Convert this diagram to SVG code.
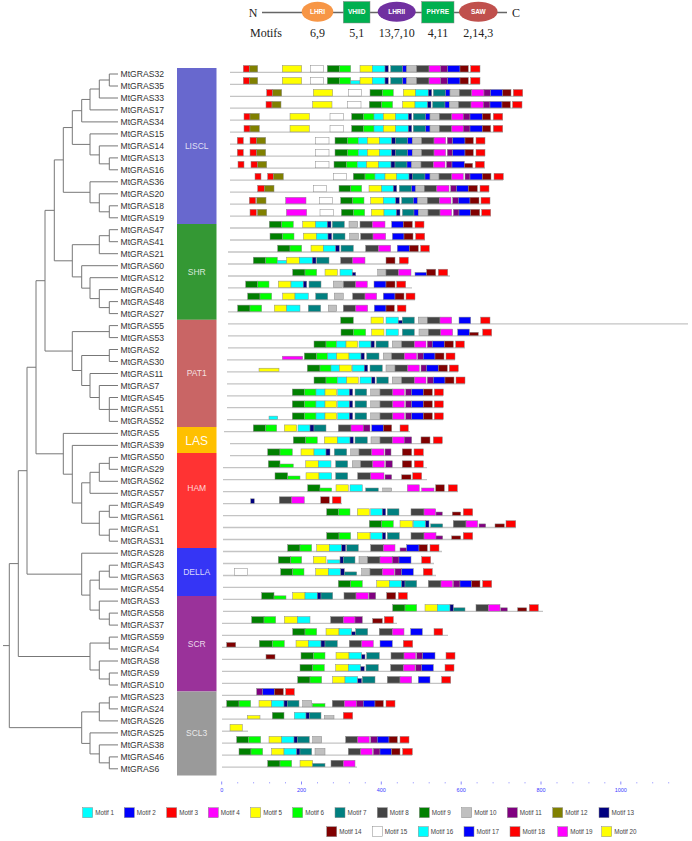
<svg xmlns="http://www.w3.org/2000/svg" width="692" height="841" viewBox="0 0 692 841">
<style>
.lbl{font-family:"Liberation Sans",Arial,sans-serif;font-size:8.6px;fill:#333}
.clade{font-family:"Liberation Sans",Arial,sans-serif;font-size:8.5px;fill:#fff;fill-opacity:.82;text-anchor:middle}
.ser{font-family:"Liberation Serif","Times New Roman",serif;font-size:12px;fill:#222}
.dom{font-family:"Liberation Sans",Arial,sans-serif;font-size:6.5px;fill:#fff;text-anchor:middle;font-weight:bold}
.ax{font-family:"Liberation Sans",Arial,sans-serif;font-size:5.5px;fill:#3a3aff;text-anchor:middle}
.lg{font-family:"Liberation Sans",Arial,sans-serif;font-size:6.3px;fill:#444}
.tree path{fill:none;stroke:#777;stroke-width:1}
.ln{stroke:#c4c4c4;stroke-width:1.3}
rect{stroke:#8a8a8a;stroke-width:.5}
.R{fill:#f00}.O{fill:#808000}.Y{fill:#ff0}.E{fill:#fff}.G{fill:#008000}.L{fill:#0f0}.C{fill:#0ff}.N{fill:#000080}.T{fill:#008080}.B{fill:#00f}.S{fill:#c0c0c0}.D{fill:#444}.M{fill:#f0f}.P{fill:#800080}.K{fill:#800000}
.blk{stroke:none}
</style>
<g id="header">
<line x1="262" y1="12.5" x2="507" y2="12.5" stroke="#666" stroke-width="1.6"/>
<text class="ser" x="253" y="17" text-anchor="middle">N</text>
<text class="ser" x="516" y="17" text-anchor="middle">C</text>
<ellipse cx="317.5" cy="11.7" rx="15.8" ry="10" fill="#F79646"/>
<text class="dom" x="317.5" y="14">LHRI</text>
<rect x="343.3" y="1.5" width="26.7" height="21.5" fill="#00B050" stroke="none"/>
<text class="dom" x="356.7" y="14">VHIID</text>
<ellipse cx="396.7" cy="11.7" rx="19" ry="10" fill="#7030A0"/>
<text class="dom" x="396.7" y="14">LHRII</text>
<rect x="421.7" y="1.5" width="32.3" height="21.5" fill="#00B050" stroke="none"/>
<text class="dom" x="437.8" y="14">PHYRE</text>
<ellipse cx="478.3" cy="11.7" rx="19.3" ry="10" fill="#C0504D"/>
<text class="dom" x="478.3" y="14">SAW</text>
<text class="ser" x="250" y="37">Motifs</text>
<text class="ser" x="317.5" y="37" text-anchor="middle">6,9</text>
<text class="ser" x="356.7" y="37" text-anchor="middle">5,1</text>
<text class="ser" x="396.7" y="37" text-anchor="middle">13,7,10</text>
<text class="ser" x="438" y="37" text-anchor="middle">4,11</text>
<text class="ser" x="478.3" y="37" text-anchor="middle">2,14,3</text>
</g>
<g id="connectors" class="tree">
<path d="M118 74H109.3V86H118"/><path d="M109.3 80H99.3V98H118"/><path d="M99.3 89H90V109.9H118"/><path d="M90 99.45H81.7V121.9H118"/>
<path d="M118 157.9H109.3V169.8H118"/><path d="M118 145.9H99.3V163.85H109.3"/><path d="M118 133.9H90V154.9H99.3"/><path d="M81.7 110.7H72.3V144.4H90"/>
<path d="M118 205.8H109.3V217.8H118"/><path d="M118 193.8H99.3V211.8H109.3"/><path d="M118 181.8H90V202.8H99.3"/><path d="M72.3 127.55H63.3V192.3H90"/>
<path d="M118 229.7H109.3V241.7H118"/><path d="M109.3 235.7H99.3V253.7H118"/><path d="M118 301.6H109.3V313.6H118"/><path d="M118 289.6H99.3V307.6H109.3"/><path d="M118 277.7H90V298.6H99.3"/><path d="M118 265.7H81.7V288.15H90"/><path d="M99.3 244.7H72.3V276.9H81.7"/><path d="M63.3 159.9H54.3V260.8H72.3"/>
<path d="M118 325.6H109.3V337.6H118"/><path d="M118 349.5H109.3V361.5H118"/><path d="M118 397.5H109.3V421.4H118M109.3 409.4H118"/><path d="M118 385.5H99.3V409.45H109.3"/><path d="M118 373.5H90V397.5H99.3"/><path d="M109.3 355.5H81.7V385.5H90"/><path d="M109.3 331.6H72.3V370.5H81.7"/><path d="M54.3 210.35H45V351.05H72.3"/>
<path d="M118 457.4H109.3V469.3H118"/><path d="M109.3 463.35H99.3V481.3H118"/><path d="M99.3 472.3H90V493.3H118"/><path d="M118 505.3H109.3V517.3H118"/><path d="M118 529.2H109.3V541.2H118"/><path d="M109.3 511.3H99.3V535.2H109.3"/><path d="M90 482.8H81.7V523.25H99.3"/><path d="M118 445.4H72.3V503H81.7"/><path d="M118 433.4H63.3V474.2H72.3"/><path d="M45 280.7H36V453.8H63.3"/>
<path d="M118 565.2H109.3V577.2H118"/><path d="M109.3 571.2H99.3V589.1H118"/><path d="M118 613.1H109.3V625.1H118"/><path d="M118 601.1H99.3V619.1H109.3"/><path d="M99.3 580.15H90V610.1H99.3"/><path d="M118 553.2H81.7V595.1H90"/><path d="M36 367.25H27V574.15H81.7"/>
<path d="M118 637.1H109.3V649H118"/><path d="M118 673H109.3V685H118"/><path d="M118 661H99.3V679H109.3"/><path d="M109.3 643.05H90V670H99.3"/><path d="M27 470.7H18.3V656.5H90"/>
<path d="M118 697H109.3V708.9H118"/><path d="M109.3 702.95H99.3V720.9H118"/><path d="M118 756.9H109.3V768.8H118"/><path d="M118 744.9H99.3V762.85H109.3"/><path d="M118 732.9H90V753.9H99.3"/><path d="M99.3 711.9H81.7V743.4H90"/><path d="M18.3 563.6H9.3V727.65H81.7M3 645.6H9.3"/>
</g>
<g id="clades">
<g id="LISCL"><rect class="blk" x="177" y="68" width="39.5" height="156" fill="#6868CE"/><text class="clade" x="196.7" y="148.5">LISCL</text></g>
<g id="SHR"><rect class="blk" x="177" y="224" width="39.5" height="95.8" fill="#349834"/><text class="clade" x="196.7" y="274.7">SHR</text></g>
<g id="PAT1"><rect class="blk" x="177" y="319.8" width="39.5" height="107.2" fill="#C96565"/><text class="clade" x="196.7" y="376">PAT1</text></g>
<g id="LAS"><rect class="blk" x="177" y="427" width="39.5" height="26" fill="#FFC000"/><text class="clade" x="196.7" y="445.3" style="font-size:12px;fill-opacity:.95">LAS</text></g>
<g id="HAM"><rect class="blk" x="177" y="453" width="39.5" height="95" fill="#FF3333"/><text class="clade" x="196.7" y="490.7">HAM</text></g>
<g id="DELLA"><rect class="blk" x="177" y="548" width="39.5" height="48" fill="#3535F5"/><text class="clade" x="196.7" y="574.7">DELLA</text></g>
<g id="SCR"><rect class="blk" x="177" y="596" width="39.5" height="95.5" fill="#9A329A"/><text class="clade" x="196.7" y="647">SCR</text></g>
<g id="SCL3"><rect class="blk" x="177" y="691.5" width="39.5" height="84" fill="#9A9A9A"/><text class="clade" x="196.7" y="736.3">SCL3</text></g>
</g>
<g id="genes">
<g id="MtGRAS32"><text class="lbl" x="120.5" y="77">MtGRAS32</text><g transform="translate(0,72)"><line class="ln" x1="230" y1="0.3" x2="480" y2="0.3"/><rect class="R" x="243.3" y="-6.5" width="6" height="6.5"/><rect class="O" x="249.3" y="-6.5" width="8.4" height="6.5"/><rect class="Y" x="282.3" y="-6.5" width="19.4" height="6.5"/><rect class="E" x="310.7" y="-6.5" width="12.6" height="6.5"/><rect class="G" x="327.3" y="-6.5" width="12" height="6.5"/><rect class="L" x="339.3" y="-6.5" width="11.4" height="6.5"/><rect class="Y" x="360" y="-6.5" width="12.3" height="6.5"/><rect class="C" x="372.3" y="-6.5" width="12.7" height="6.5"/><rect class="N" x="385" y="-6.5" width="3.3" height="6.5"/><rect class="T" x="390.7" y="-6.5" width="12" height="6.5"/><rect class="B" x="402.7" y="-6.5" width="4" height="6.5"/><rect class="S" x="406.7" y="-6.5" width="10" height="6.5"/><rect class="D" x="416.7" y="-6.5" width="12.3" height="6.5"/><rect class="M" x="429" y="-6.5" width="11.7" height="6.5"/><rect class="P" x="440.7" y="-6.5" width="7" height="6.5"/><rect class="B" x="447.7" y="-6.5" width="12.3" height="6.5"/><rect class="K" x="460" y="-6.5" width="8.3" height="6.5"/><rect class="R" x="470.7" y="-6.5" width="9.3" height="6.5"/></g></g>
<g id="MtGRAS35"><text class="lbl" x="120.5" y="89">MtGRAS35</text><g transform="translate(0,84)"><line class="ln" x1="230" y1="0.3" x2="480" y2="0.3"/><rect class="R" x="243.3" y="-6.5" width="6" height="6.5"/><rect class="O" x="249.3" y="-6.5" width="8.4" height="6.5"/><rect class="Y" x="282.3" y="-6.5" width="19.4" height="6.5"/><rect class="E" x="310.7" y="-6.5" width="12.6" height="6.5"/><rect class="G" x="327.3" y="-6.5" width="12" height="6.5"/><rect class="L" x="339.3" y="-6.5" width="11.4" height="6.5"/><rect class="C" x="350.7" y="-3.3" width="9.3" height="3.3"/><rect class="Y" x="360" y="-6.5" width="12.3" height="6.5"/><rect class="C" x="372.3" y="-6.5" width="12.7" height="6.5"/><rect class="N" x="385" y="-6.5" width="3.3" height="6.5"/><rect class="T" x="390.7" y="-6.5" width="12" height="6.5"/><rect class="B" x="402.7" y="-6.5" width="4" height="6.5"/><rect class="S" x="406.7" y="-6.5" width="10" height="6.5"/><rect class="D" x="416.7" y="-6.5" width="12.3" height="6.5"/><rect class="M" x="429" y="-6.5" width="11.7" height="6.5"/><rect class="P" x="440.7" y="-6.5" width="7" height="6.5"/><rect class="B" x="447.7" y="-6.5" width="12.3" height="6.5"/><rect class="K" x="460" y="-6.5" width="8.3" height="6.5"/><rect class="R" x="470.7" y="-6.5" width="9.3" height="6.5"/></g></g>
<g id="MtGRAS33"><text class="lbl" x="120.5" y="101">MtGRAS33</text><g transform="translate(0,96)"><line class="ln" x1="230" y1="0.3" x2="523" y2="0.3"/><rect class="R" x="266.7" y="-6.5" width="6" height="6.5"/><rect class="O" x="272.7" y="-6.5" width="9" height="6.5"/><rect class="Y" x="313.3" y="-6.5" width="19.4" height="6.5"/><rect class="E" x="348.3" y="-6.5" width="13.4" height="6.5"/><rect class="G" x="370" y="-6.5" width="12.3" height="6.5"/><rect class="L" x="382.3" y="-6.5" width="11" height="6.5"/><rect class="Y" x="403.3" y="-6.5" width="12.4" height="6.5"/><rect class="C" x="415.7" y="-6.5" width="12.6" height="6.5"/><rect class="N" x="428.3" y="-6.5" width="3.4" height="6.5"/><rect class="T" x="433.3" y="-6.5" width="12.4" height="6.5"/><rect class="B" x="445.7" y="-6.5" width="4.3" height="6.5"/><rect class="S" x="450" y="-6.5" width="9.3" height="6.5"/><rect class="D" x="459.3" y="-6.5" width="12.4" height="6.5"/><rect class="M" x="471.7" y="-6.5" width="12.3" height="6.5"/><rect class="P" x="484" y="-6.5" width="6.7" height="6.5"/><rect class="B" x="490.7" y="-6.5" width="12" height="6.5"/><rect class="K" x="502.7" y="-6.5" width="8.3" height="6.5"/><rect class="R" x="513.3" y="-6.5" width="9.4" height="6.5"/></g></g>
<g id="MtGRAS17"><text class="lbl" x="120.5" y="112.9">MtGRAS17</text><g transform="translate(0,107.9)"><line class="ln" x1="230" y1="0.3" x2="522" y2="0.3"/><rect class="R" x="266" y="-6.5" width="6" height="6.5"/><rect class="O" x="272" y="-6.5" width="9" height="6.5"/><rect class="Y" x="312.6" y="-6.5" width="19.4" height="6.5"/><rect class="E" x="347.6" y="-6.5" width="13.4" height="6.5"/><rect class="G" x="369.3" y="-6.5" width="12.3" height="6.5"/><rect class="L" x="381.6" y="-6.5" width="11" height="6.5"/><rect class="Y" x="402.6" y="-6.5" width="12.4" height="6.5"/><rect class="C" x="415" y="-6.5" width="12.6" height="6.5"/><rect class="N" x="427.6" y="-6.5" width="3.4" height="6.5"/><rect class="T" x="432.6" y="-6.5" width="12.4" height="6.5"/><rect class="B" x="445" y="-6.5" width="4.3" height="6.5"/><rect class="S" x="449.3" y="-6.5" width="9.3" height="6.5"/><rect class="D" x="458.6" y="-6.5" width="12.4" height="6.5"/><rect class="M" x="471" y="-6.5" width="12.3" height="6.5"/><rect class="P" x="483.3" y="-6.5" width="6.7" height="6.5"/><rect class="B" x="490" y="-6.5" width="12" height="6.5"/><rect class="K" x="502" y="-6.5" width="8.3" height="6.5"/><rect class="R" x="512.6" y="-6.5" width="9.4" height="6.5"/></g></g>
<g id="MtGRAS34"><text class="lbl" x="120.5" y="124.9">MtGRAS34</text><g transform="translate(0,119.9)"><line class="ln" x1="230" y1="0.3" x2="503" y2="0.3"/><rect class="R" x="244" y="-6.5" width="6" height="6.5"/><rect class="O" x="250" y="-6.5" width="9.3" height="6.5"/><rect class="Y" x="290" y="-6.5" width="19.3" height="6.5"/><rect class="E" x="330" y="-6.5" width="13.3" height="6.5"/><rect class="G" x="351.7" y="-6.5" width="11.6" height="6.5"/><rect class="L" x="363.3" y="-6.5" width="10.7" height="6.5"/><rect class="C" x="374" y="-6.5" width="9.3" height="6.5"/><rect class="Y" x="383.3" y="-6.5" width="12.4" height="6.5"/><rect class="C" x="395.7" y="-6.5" width="12.6" height="6.5"/><rect class="N" x="408.3" y="-6.5" width="3.4" height="6.5"/><rect class="T" x="413.3" y="-6.5" width="12.4" height="6.5"/><rect class="B" x="425.7" y="-6.5" width="4.3" height="6.5"/><rect class="S" x="430" y="-6.5" width="9.3" height="6.5"/><rect class="D" x="439.3" y="-6.5" width="12.4" height="6.5"/><rect class="M" x="451.7" y="-6.5" width="11.6" height="6.5"/><rect class="P" x="463.3" y="-6.5" width="6.7" height="6.5"/><rect class="B" x="470" y="-6.5" width="12.3" height="6.5"/><rect class="K" x="482.3" y="-6.5" width="8.4" height="6.5"/><rect class="R" x="493.3" y="-6.5" width="9.4" height="6.5"/></g></g>
<g id="MtGRAS15"><text class="lbl" x="120.5" y="136.9">MtGRAS15</text><g transform="translate(0,131.9)"><line class="ln" x1="230" y1="0.3" x2="503" y2="0.3"/><rect class="R" x="244" y="-6.5" width="6" height="6.5"/><rect class="O" x="250" y="-6.5" width="9.3" height="6.5"/><rect class="Y" x="290" y="-6.5" width="19.3" height="6.5"/><rect class="E" x="330" y="-6.5" width="13.3" height="6.5"/><rect class="G" x="351.7" y="-6.5" width="11.6" height="6.5"/><rect class="L" x="363.3" y="-6.5" width="10.7" height="6.5"/><rect class="C" x="374" y="-6.5" width="9.3" height="6.5"/><rect class="Y" x="383.3" y="-6.5" width="12.4" height="6.5"/><rect class="C" x="395.7" y="-6.5" width="12.6" height="6.5"/><rect class="N" x="408.3" y="-6.5" width="3.4" height="6.5"/><rect class="T" x="413.3" y="-6.5" width="12.4" height="6.5"/><rect class="B" x="425.7" y="-6.5" width="4.3" height="6.5"/><rect class="S" x="430" y="-6.5" width="9.3" height="6.5"/><rect class="D" x="439.3" y="-6.5" width="12.4" height="6.5"/><rect class="M" x="451.7" y="-6.5" width="11.6" height="6.5"/><rect class="P" x="463.3" y="-6.5" width="6.7" height="6.5"/><rect class="B" x="470" y="-6.5" width="12.3" height="6.5"/><rect class="K" x="482.3" y="-6.5" width="8.4" height="6.5"/><rect class="R" x="493.3" y="-6.5" width="9.4" height="6.5"/></g></g>
<g id="MtGRAS14"><text class="lbl" x="120.5" y="148.9">MtGRAS14</text><g transform="translate(0,143.9)"><line class="ln" x1="230" y1="0.3" x2="485" y2="0.3"/><rect class="R" x="237.3" y="-6.5" width="6" height="6.5"/><rect class="R" x="250" y="-6.5" width="6.7" height="6.5"/><rect class="O" x="256.7" y="-6.5" width="9" height="6.5"/><rect class="E" x="315.7" y="-6.5" width="13.3" height="6.5"/><rect class="G" x="335" y="-6.5" width="12.3" height="6.5"/><rect class="L" x="347.3" y="-6.5" width="11" height="6.5"/><rect class="C" x="358.3" y="-6.5" width="9" height="6.5"/><rect class="Y" x="367.3" y="-6.5" width="12" height="6.5"/><rect class="C" x="379.3" y="-6.5" width="12.4" height="6.5"/><rect class="N" x="391.7" y="-6.5" width="4" height="6.5"/><rect class="T" x="395.7" y="-6.5" width="12" height="6.5"/><rect class="B" x="407.7" y="-6.5" width="4.6" height="6.5"/><rect class="S" x="412.3" y="-6.5" width="9.4" height="6.5"/><rect class="D" x="421.7" y="-6.5" width="12.3" height="6.5"/><rect class="M" x="434" y="-6.5" width="11.7" height="6.5"/><rect class="P" x="447.3" y="-6.5" width="5.4" height="6.5"/><rect class="B" x="452.7" y="-6.5" width="12.3" height="6.5"/><rect class="K" x="465" y="-6.5" width="8.3" height="6.5"/><rect class="R" x="476" y="-6.5" width="9" height="6.5"/></g></g>
<g id="MtGRAS13"><text class="lbl" x="120.5" y="160.9">MtGRAS13</text><g transform="translate(0,155.9)"><line class="ln" x1="230" y1="0.3" x2="485" y2="0.3"/><rect class="R" x="237.3" y="-6.5" width="6" height="6.5"/><rect class="R" x="250" y="-6.5" width="6.7" height="6.5"/><rect class="O" x="256.7" y="-6.5" width="9" height="6.5"/><rect class="E" x="315.7" y="-6.5" width="13.3" height="6.5"/><rect class="G" x="335" y="-6.5" width="12.3" height="6.5"/><rect class="L" x="347.3" y="-6.5" width="11" height="6.5"/><rect class="C" x="358.3" y="-6.5" width="9" height="6.5"/><rect class="Y" x="367.3" y="-6.5" width="12" height="6.5"/><rect class="C" x="379.3" y="-6.5" width="12.4" height="6.5"/><rect class="N" x="391.7" y="-6.5" width="4" height="6.5"/><rect class="T" x="395.7" y="-6.5" width="12" height="6.5"/><rect class="B" x="407.7" y="-6.5" width="4.6" height="6.5"/><rect class="S" x="412.3" y="-6.5" width="9.4" height="6.5"/><rect class="D" x="421.7" y="-6.5" width="12.3" height="6.5"/><rect class="M" x="434" y="-6.5" width="11.7" height="6.5"/><rect class="P" x="447.3" y="-6.5" width="5.4" height="6.5"/><rect class="B" x="452.7" y="-6.5" width="12.3" height="6.5"/><rect class="K" x="465" y="-6.5" width="8.3" height="6.5"/><rect class="R" x="476" y="-6.5" width="9" height="6.5"/></g></g>
<g id="MtGRAS16"><text class="lbl" x="120.5" y="172.8">MtGRAS16</text><g transform="translate(0,167.8)"><line class="ln" x1="230" y1="0.3" x2="485" y2="0.3"/><rect class="R" x="238" y="-6.5" width="6" height="6.5"/><rect class="R" x="251" y="-6.5" width="6.7" height="6.5"/><rect class="O" x="257.7" y="-6.5" width="9" height="6.5"/><rect class="E" x="315.7" y="-6.5" width="13.3" height="6.5"/><rect class="G" x="334" y="-6.5" width="12.3" height="6.5"/><rect class="L" x="346.3" y="-6.5" width="11" height="6.5"/><rect class="C" x="357.3" y="-6.5" width="9.3" height="6.5"/><rect class="Y" x="366.6" y="-6.5" width="12" height="6.5"/><rect class="C" x="378.6" y="-6.5" width="12.4" height="6.5"/><rect class="N" x="391" y="-6.5" width="4" height="6.5"/><rect class="T" x="395" y="-6.5" width="12" height="6.5"/><rect class="B" x="407" y="-6.5" width="4.6" height="6.5"/><rect class="S" x="411.6" y="-6.5" width="9.4" height="6.5"/><rect class="D" x="421" y="-6.5" width="12.3" height="6.5"/><rect class="M" x="433.3" y="-6.5" width="11.7" height="6.5"/><rect class="P" x="446.6" y="-6.5" width="5.4" height="6.5"/><rect class="B" x="452" y="-6.5" width="12.3" height="6.5"/><rect class="K" x="464.3" y="-4.5" width="8.3" height="4.5"/><rect class="R" x="475.3" y="-6.5" width="9" height="6.5"/></g></g>
<g id="MtGRAS36"><text class="lbl" x="120.5" y="184.8">MtGRAS36</text><g transform="translate(0,179.8)"><line class="ln" x1="230" y1="0.3" x2="503" y2="0.3"/><rect class="R" x="255" y="-6.5" width="6" height="6.5"/><rect class="R" x="267.7" y="-6.5" width="5.6" height="6.5"/><rect class="O" x="273.3" y="-6.5" width="10" height="6.5"/><rect class="E" x="333.3" y="-6.5" width="13.4" height="6.5"/><rect class="G" x="353.3" y="-6.5" width="11.7" height="6.5"/><rect class="L" x="365" y="-6.5" width="10" height="6.5"/><rect class="C" x="375" y="-6.5" width="10" height="6.5"/><rect class="Y" x="385" y="-6.5" width="11.7" height="6.5"/><rect class="C" x="396.7" y="-6.5" width="12.3" height="6.5"/><rect class="N" x="409" y="-6.5" width="3.7" height="6.5"/><rect class="T" x="412.7" y="-6.5" width="12.3" height="6.5"/><rect class="B" x="425" y="-6.5" width="5" height="6.5"/><rect class="S" x="430" y="-6.5" width="9" height="6.5"/><rect class="D" x="439" y="-6.5" width="12.7" height="6.5"/><rect class="M" x="451.7" y="-6.5" width="11.6" height="6.5"/><rect class="P" x="465" y="-6.5" width="5" height="6.5"/><rect class="B" x="470" y="-6.5" width="12.3" height="6.5"/><rect class="K" x="482.3" y="-6.5" width="8.7" height="6.5"/><rect class="R" x="494" y="-6.5" width="9.3" height="6.5"/></g></g>
<g id="MtGRAS20"><text class="lbl" x="120.5" y="196.8">MtGRAS20</text><g transform="translate(0,191.8)"><line class="ln" x1="230" y1="0.3" x2="489" y2="0.3"/><rect class="R" x="257.7" y="-6.5" width="6.6" height="6.5"/><rect class="O" x="264.3" y="-6.5" width="9.7" height="6.5"/><rect class="E" x="313.3" y="-6.5" width="13.4" height="6.5"/><rect class="G" x="339" y="-6.5" width="11.7" height="6.5"/><rect class="L" x="350.7" y="-6.5" width="11" height="6.5"/><rect class="Y" x="369" y="-6.5" width="12.7" height="6.5"/><rect class="C" x="381.7" y="-6.5" width="11.6" height="6.5"/><rect class="N" x="393.3" y="-6.5" width="3.4" height="6.5"/><rect class="T" x="399.3" y="-6.5" width="12.4" height="6.5"/><rect class="B" x="411.7" y="-6.5" width="4" height="6.5"/><rect class="S" x="415.7" y="-6.5" width="8.6" height="6.5"/><rect class="D" x="424.3" y="-6.5" width="12.4" height="6.5"/><rect class="M" x="436.7" y="-6.5" width="12.3" height="6.5"/><rect class="P" x="450.7" y="-6.5" width="6" height="6.5"/><rect class="B" x="456.7" y="-6.5" width="11.6" height="6.5"/><rect class="K" x="468.3" y="-6.5" width="9" height="6.5"/><rect class="R" x="480" y="-6.5" width="9" height="6.5"/></g></g>
<g id="MtGRAS18"><text class="lbl" x="120.5" y="208.8">MtGRAS18</text><g transform="translate(0,203.8)"><line class="ln" x1="230" y1="0.3" x2="490" y2="0.3"/><rect class="R" x="249.3" y="-6.5" width="6.4" height="6.5"/><rect class="O" x="256.7" y="-6.5" width="9.3" height="6.5"/><rect class="M" x="285.7" y="-6.5" width="20.3" height="6.5"/><rect class="E" x="319.3" y="-6.5" width="13.4" height="6.5"/><rect class="G" x="340.7" y="-6.5" width="12" height="6.5"/><rect class="L" x="352.7" y="-6.5" width="11.3" height="6.5"/><rect class="Y" x="370.7" y="-6.5" width="12.6" height="6.5"/><rect class="C" x="383.3" y="-6.5" width="12.4" height="6.5"/><rect class="N" x="395.7" y="-6.5" width="3.6" height="6.5"/><rect class="T" x="401.7" y="-6.5" width="11.6" height="6.5"/><rect class="B" x="413.3" y="-6.5" width="4.4" height="6.5"/><rect class="S" x="417.7" y="-6.5" width="9.6" height="6.5"/><rect class="D" x="427.3" y="-6.5" width="12" height="6.5"/><rect class="M" x="439.3" y="-6.5" width="11.7" height="6.5"/><rect class="P" x="452.7" y="-6.5" width="5.6" height="6.5"/><rect class="B" x="458.3" y="-6.5" width="11.7" height="6.5"/><rect class="K" x="470" y="-6.5" width="9" height="6.5"/><rect class="R" x="481" y="-6.5" width="9" height="6.5"/></g></g>
<g id="MtGRAS19"><text class="lbl" x="120.5" y="220.8">MtGRAS19</text><g transform="translate(0,215.8)"><line class="ln" x1="230" y1="0.3" x2="491" y2="0.3"/><rect class="R" x="250" y="-6.5" width="6.4" height="6.5"/><rect class="O" x="257.4" y="-6.5" width="9.3" height="6.5"/><rect class="M" x="286.4" y="-6.5" width="20.3" height="6.5"/><rect class="E" x="320" y="-6.5" width="13.4" height="6.5"/><rect class="G" x="341.4" y="-6.5" width="12" height="6.5"/><rect class="L" x="353.4" y="-6.5" width="11.3" height="6.5"/><rect class="Y" x="371.4" y="-6.5" width="12.6" height="6.5"/><rect class="C" x="384" y="-6.5" width="12.4" height="6.5"/><rect class="N" x="396.4" y="-6.5" width="3.6" height="6.5"/><rect class="T" x="402.4" y="-6.5" width="11.6" height="6.5"/><rect class="B" x="414" y="-6.5" width="4.4" height="6.5"/><rect class="S" x="418.4" y="-6.5" width="9.6" height="6.5"/><rect class="D" x="428" y="-6.5" width="12" height="6.5"/><rect class="M" x="440" y="-6.5" width="11.7" height="6.5"/><rect class="P" x="453.4" y="-6.5" width="5.6" height="6.5"/><rect class="B" x="459" y="-6.5" width="11.7" height="6.5"/><rect class="K" x="470.7" y="-6.5" width="9" height="6.5"/><rect class="R" x="481.7" y="-6.5" width="9" height="6.5"/></g></g>
<g id="MtGRAS47"><text class="lbl" x="120.5" y="232.7">MtGRAS47</text><g transform="translate(0,227.7)"><line class="ln" x1="230" y1="0.3" x2="424" y2="0.3"/><rect class="G" x="269.3" y="-6.5" width="12.4" height="6.5"/><rect class="L" x="281.7" y="-6.5" width="11.6" height="6.5"/><rect class="Y" x="302.7" y="-6.5" width="13" height="6.5"/><rect class="C" x="315.7" y="-6.5" width="11.6" height="6.5"/><rect class="N" x="327.3" y="-6.5" width="3.7" height="6.5"/><rect class="T" x="332.3" y="-6.5" width="12" height="6.5"/><rect class="S" x="349" y="-6.5" width="8.7" height="6.5"/><rect class="D" x="360" y="-6.5" width="12.3" height="6.5"/><rect class="M" x="372.3" y="-6.5" width="12.7" height="6.5"/><rect class="B" x="391.7" y="-6.5" width="11.6" height="6.5"/><rect class="K" x="403.3" y="-6.5" width="9" height="6.5"/><rect class="R" x="415" y="-6.5" width="9" height="6.5"/></g></g>
<g id="MtGRAS41"><text class="lbl" x="120.5" y="244.7">MtGRAS41</text><g transform="translate(0,239.7)"><line class="ln" x1="230" y1="0.3" x2="425" y2="0.3"/><rect class="G" x="270" y="-6.5" width="12.4" height="6.5"/><rect class="L" x="282.4" y="-6.5" width="11.6" height="6.5"/><rect class="Y" x="303.4" y="-6.5" width="13" height="6.5"/><rect class="C" x="316.4" y="-6.5" width="11.6" height="6.5"/><rect class="N" x="328" y="-6.5" width="3.7" height="6.5"/><rect class="T" x="333" y="-6.5" width="12" height="6.5"/><rect class="S" x="349.7" y="-6.5" width="8.7" height="6.5"/><rect class="D" x="360.7" y="-6.5" width="12.3" height="6.5"/><rect class="M" x="373" y="-6.5" width="12.7" height="6.5"/><rect class="B" x="392.4" y="-6.5" width="11.6" height="6.5"/><rect class="K" x="404" y="-6.5" width="9" height="6.5"/><rect class="R" x="415.7" y="-6.5" width="9" height="6.5"/></g></g>
<g id="MtGRAS21"><text class="lbl" x="120.5" y="256.7">MtGRAS21</text><g transform="translate(0,251.7)"><line class="ln" x1="228" y1="0.3" x2="430" y2="0.3"/><rect class="G" x="277.7" y="-6.5" width="12.3" height="6.5"/><rect class="L" x="290" y="-6.5" width="11.7" height="6.5"/><rect class="Y" x="311" y="-6.5" width="12.3" height="6.5"/><rect class="C" x="323.3" y="-6.5" width="12.4" height="6.5"/><rect class="N" x="335.7" y="-6.5" width="3.6" height="6.5"/><rect class="T" x="341" y="-6.5" width="12.3" height="6.5"/><rect class="D" x="365.7" y="-6.5" width="12.6" height="6.5"/><rect class="M" x="378.3" y="-6.5" width="12.4" height="6.5"/><rect class="B" x="397.3" y="-6.5" width="12" height="6.5"/><rect class="K" x="409.3" y="-6.5" width="9" height="6.5"/><rect class="R" x="420.7" y="-6.5" width="8.6" height="6.5"/></g></g>
<g id="MtGRAS60"><text class="lbl" x="120.5" y="268.7">MtGRAS60</text><g transform="translate(0,263.7)"><line class="ln" x1="228" y1="0.3" x2="408" y2="0.3"/><rect class="G" x="253.3" y="-6.5" width="12.4" height="6.5"/><rect class="L" x="265.7" y="-6.5" width="11.6" height="6.5"/><rect class="C" x="277.3" y="-3.3" width="9.4" height="3.3"/><rect class="Y" x="286.7" y="-6.5" width="12.6" height="6.5"/><rect class="C" x="299.3" y="-6.5" width="13" height="6.5"/><rect class="N" x="312.3" y="-6.5" width="3.7" height="6.5"/><rect class="T" x="316.7" y="-6.5" width="12.3" height="6.5"/><rect class="D" x="340.7" y="-6.5" width="12" height="6.5"/><rect class="M" x="352.7" y="-6.5" width="12.3" height="6.5"/><rect class="K" x="386" y="-6.5" width="9" height="6.5"/><rect class="R" x="399.3" y="-6.5" width="9" height="6.5"/></g></g>
<g id="MtGRAS12"><text class="lbl" x="120.5" y="280.7">MtGRAS12</text><g transform="translate(0,275.7)"><line class="ln" x1="228" y1="0.3" x2="450" y2="0.3"/><rect class="G" x="292.7" y="-6.5" width="12.3" height="6.5"/><rect class="L" x="305" y="-6.5" width="11.7" height="6.5"/><rect class="Y" x="325" y="-6.5" width="12.3" height="6.5"/><rect class="C" x="340" y="-6.5" width="12.3" height="6.5"/><rect class="N" x="352.3" y="-3.3" width="3.4" height="3.3"/><rect class="S" x="377.7" y="-6.5" width="8.3" height="6.5"/><rect class="D" x="386" y="-6.5" width="12.3" height="6.5"/><rect class="M" x="398.3" y="-6.5" width="12.7" height="6.5"/><rect class="B" x="415" y="-3.3" width="11.7" height="3.3"/><rect class="K" x="426.7" y="-6.5" width="9" height="6.5"/><rect class="R" x="438.3" y="-6.5" width="9.4" height="6.5"/></g></g>
<g id="MtGRAS40"><text class="lbl" x="120.5" y="292.6">MtGRAS40</text><g transform="translate(0,287.6)"><line class="ln" x1="228" y1="0.3" x2="412" y2="0.3"/><rect class="G" x="245.7" y="-6.5" width="12" height="6.5"/><rect class="L" x="257.7" y="-6.5" width="11.3" height="6.5"/><rect class="Y" x="278.3" y="-6.5" width="12.7" height="6.5"/><rect class="C" x="291" y="-6.5" width="12.3" height="6.5"/><rect class="N" x="303.3" y="-6.5" width="3.4" height="6.5"/><rect class="T" x="309" y="-6.5" width="12" height="6.5"/><rect class="S" x="333.3" y="-6.5" width="9" height="6.5"/><rect class="D" x="343.3" y="-6.5" width="12.4" height="6.5"/><rect class="M" x="355.7" y="-6.5" width="11.6" height="6.5"/><rect class="B" x="374" y="-6.5" width="12" height="6.5"/><rect class="K" x="386" y="-6.5" width="9" height="6.5"/><rect class="R" x="396.7" y="-6.5" width="9" height="6.5"/></g></g>
<g id="MtGRAS48"><text class="lbl" x="120.5" y="304.6">MtGRAS48</text><g transform="translate(0,299.6)"><line class="ln" x1="228" y1="0.3" x2="415" y2="0.3"/><rect class="G" x="247.7" y="-6.5" width="12.3" height="6.5"/><rect class="L" x="260" y="-6.5" width="11.7" height="6.5"/><rect class="Y" x="282.7" y="-6.5" width="12.3" height="6.5"/><rect class="C" x="295" y="-6.5" width="13.3" height="6.5"/><rect class="T" x="315.7" y="-6.5" width="12" height="6.5"/><rect class="S" x="334.3" y="-6.5" width="9" height="6.5"/><rect class="D" x="352.7" y="-6.5" width="12.3" height="6.5"/><rect class="M" x="365" y="-6.5" width="11.7" height="6.5"/><rect class="B" x="383.3" y="-6.5" width="11.7" height="6.5"/><rect class="K" x="395" y="-6.5" width="9" height="6.5"/><rect class="R" x="406" y="-6.5" width="9" height="6.5"/></g></g>
<g id="MtGRAS27"><text class="lbl" x="120.5" y="316.6">MtGRAS27</text><g transform="translate(0,311.6)"><line class="ln" x1="228" y1="0.3" x2="406" y2="0.3"/><rect class="G" x="237.7" y="-6.5" width="12.3" height="6.5"/><rect class="L" x="250" y="-6.5" width="11.7" height="6.5"/><rect class="Y" x="274.3" y="-6.5" width="12.4" height="6.5"/><rect class="C" x="286.7" y="-6.5" width="13.3" height="6.5"/><rect class="T" x="308.3" y="-6.5" width="12.4" height="6.5"/><rect class="S" x="328.3" y="-6.5" width="8.4" height="6.5"/><rect class="D" x="343.3" y="-6.5" width="12.4" height="6.5"/><rect class="M" x="355.7" y="-6.5" width="12" height="6.5"/><rect class="B" x="374.3" y="-6.5" width="11.7" height="6.5"/><rect class="K" x="386" y="-6.5" width="8.3" height="6.5"/><rect class="R" x="397.3" y="-6.5" width="8.7" height="6.5"/></g></g>
<g id="MtGRAS55"><text class="lbl" x="120.5" y="328.6">MtGRAS55</text><g transform="translate(0,323.6)"><line class="ln" x1="228" y1="0.3" x2="688" y2="0.3"/><rect class="G" x="340.7" y="-6.5" width="12.6" height="6.5"/><rect class="Y" x="371" y="-6.5" width="12.3" height="6.5"/><rect class="C" x="386" y="-6.5" width="12.3" height="6.5"/><rect class="N" x="398.3" y="-3.3" width="4" height="3.3"/><rect class="T" x="402.3" y="-6.5" width="12" height="6.5"/><rect class="S" x="418.3" y="-6.5" width="9" height="6.5"/><rect class="D" x="427.3" y="-6.5" width="12.7" height="6.5"/><rect class="M" x="440" y="-6.5" width="11.7" height="6.5"/><rect class="B" x="459" y="-6.5" width="11.7" height="6.5"/><rect class="R" x="480.7" y="-6.5" width="9.3" height="6.5"/></g></g>
<g id="MtGRAS53"><text class="lbl" x="120.5" y="340.6">MtGRAS53</text><g transform="translate(0,335.6)"><line class="ln" x1="228" y1="0.3" x2="492" y2="0.3"/><rect class="G" x="341" y="-6.5" width="12.3" height="6.5"/><rect class="L" x="353.3" y="-6.5" width="12.4" height="6.5"/><rect class="Y" x="371.7" y="-6.5" width="12.3" height="6.5"/><rect class="C" x="386" y="-6.5" width="12.3" height="6.5"/><rect class="T" x="402.3" y="-6.5" width="12" height="6.5"/><rect class="S" x="419" y="-6.5" width="9.3" height="6.5"/><rect class="D" x="428.3" y="-6.5" width="12.4" height="6.5"/><rect class="M" x="440.7" y="-6.5" width="12" height="6.5"/><rect class="B" x="457.7" y="-6.5" width="11.6" height="6.5"/><rect class="K" x="469.3" y="-3.3" width="9" height="3.3"/><rect class="R" x="482.7" y="-6.5" width="9" height="6.5"/></g></g>
<g id="MtGRAS2"><text class="lbl" x="120.5" y="352.5">MtGRAS2</text><g transform="translate(0,347.5)"><line class="ln" x1="228" y1="0.3" x2="465" y2="0.3"/><rect class="G" x="314" y="-6.5" width="12" height="6.5"/><rect class="L" x="326" y="-6.5" width="10.7" height="6.5"/><rect class="C" x="336.7" y="-6.5" width="9.3" height="6.5"/><rect class="Y" x="346" y="-6.5" width="11.7" height="6.5"/><rect class="C" x="359" y="-6.5" width="12" height="6.5"/><rect class="N" x="371" y="-6.5" width="3.3" height="6.5"/><rect class="T" x="376" y="-6.5" width="12.3" height="6.5"/><rect class="S" x="392.3" y="-6.5" width="9.4" height="6.5"/><rect class="D" x="401.7" y="-6.5" width="12.6" height="6.5"/><rect class="M" x="414.3" y="-6.5" width="11.7" height="6.5"/><rect class="P" x="427.3" y="-6.5" width="5" height="6.5"/><rect class="B" x="432.3" y="-6.5" width="12" height="6.5"/><rect class="K" x="444.3" y="-6.5" width="9" height="6.5"/><rect class="R" x="455.7" y="-6.5" width="8.6" height="6.5"/></g></g>
<g id="MtGRAS30"><text class="lbl" x="120.5" y="364.5">MtGRAS30</text><g transform="translate(0,359.5)"><line class="ln" x1="227" y1="0.3" x2="455" y2="0.3"/><rect class="M" x="282.3" y="-3.3" width="20.4" height="3.3"/><rect class="G" x="304.3" y="-6.5" width="12.4" height="6.5"/><rect class="L" x="316.7" y="-6.5" width="11" height="6.5"/><rect class="C" x="327.7" y="-6.5" width="9" height="6.5"/><rect class="Y" x="336.7" y="-6.5" width="12.3" height="6.5"/><rect class="C" x="349" y="-6.5" width="12" height="6.5"/><rect class="N" x="361" y="-6.5" width="3.3" height="6.5"/><rect class="T" x="366.7" y="-6.5" width="12.3" height="6.5"/><rect class="S" x="383.3" y="-6.5" width="8.4" height="6.5"/><rect class="D" x="391.7" y="-6.5" width="12.6" height="6.5"/><rect class="M" x="404.3" y="-6.5" width="12.4" height="6.5"/><rect class="P" x="417.7" y="-6.5" width="5.6" height="6.5"/><rect class="B" x="423.3" y="-6.5" width="11.7" height="6.5"/><rect class="K" x="435" y="-6.5" width="9" height="6.5"/><rect class="R" x="446" y="-6.5" width="9" height="6.5"/></g></g>
<g id="MtGRAS11"><text class="lbl" x="120.5" y="376.5">MtGRAS11</text><g transform="translate(0,371.5)"><line class="ln" x1="227" y1="0.3" x2="458" y2="0.3"/><rect class="Y" x="259" y="-3.3" width="20" height="3.3"/><rect class="G" x="307.3" y="-6.5" width="12.7" height="6.5"/><rect class="L" x="320" y="-6.5" width="11" height="6.5"/><rect class="C" x="331" y="-6.5" width="8.3" height="6.5"/><rect class="Y" x="339.3" y="-6.5" width="12.4" height="6.5"/><rect class="C" x="352.3" y="-6.5" width="12" height="6.5"/><rect class="N" x="364.3" y="-6.5" width="3.4" height="6.5"/><rect class="T" x="370" y="-6.5" width="12.3" height="6.5"/><rect class="S" x="386" y="-6.5" width="9" height="6.5"/><rect class="D" x="395" y="-6.5" width="12.7" height="6.5"/><rect class="M" x="407.7" y="-6.5" width="11.6" height="6.5"/><rect class="P" x="421" y="-6.5" width="5.7" height="6.5"/><rect class="B" x="426.7" y="-6.5" width="11.6" height="6.5"/><rect class="K" x="438.3" y="-6.5" width="9" height="6.5"/><rect class="R" x="449.3" y="-6.5" width="9" height="6.5"/></g></g>
<g id="MtGRAS7"><text class="lbl" x="120.5" y="388.5">MtGRAS7</text><g transform="translate(0,383.5)"><line class="ln" x1="227" y1="0.3" x2="465" y2="0.3"/><rect class="G" x="314" y="-6.5" width="12" height="6.5"/><rect class="L" x="326" y="-6.5" width="11.3" height="6.5"/><rect class="C" x="337.3" y="-6.5" width="9.4" height="6.5"/><rect class="Y" x="346.7" y="-6.5" width="11.6" height="6.5"/><rect class="C" x="360" y="-6.5" width="11.7" height="6.5"/><rect class="N" x="371.7" y="-6.5" width="3.3" height="6.5"/><rect class="T" x="376.7" y="-6.5" width="11.6" height="6.5"/><rect class="S" x="392.3" y="-6.5" width="9.4" height="6.5"/><rect class="D" x="401.7" y="-6.5" width="12.6" height="6.5"/><rect class="M" x="414.3" y="-6.5" width="11.7" height="6.5"/><rect class="P" x="427.3" y="-6.5" width="6" height="6.5"/><rect class="B" x="433.3" y="-6.5" width="11.7" height="6.5"/><rect class="K" x="445" y="-6.5" width="9" height="6.5"/><rect class="R" x="456" y="-6.5" width="9" height="6.5"/></g></g>
<g id="MtGRAS45"><text class="lbl" x="120.5" y="400.5">MtGRAS45</text><g transform="translate(0,395.5)"><line class="ln" x1="227" y1="0.3" x2="443" y2="0.3"/><rect class="G" x="292.3" y="-6.5" width="12" height="6.5"/><rect class="L" x="304.3" y="-6.5" width="11.7" height="6.5"/><rect class="C" x="316" y="-6.5" width="9" height="6.5"/><rect class="Y" x="325" y="-6.5" width="11.7" height="6.5"/><rect class="C" x="337.7" y="-6.5" width="11.6" height="6.5"/><rect class="N" x="349.3" y="-6.5" width="3.4" height="6.5"/><rect class="T" x="355" y="-6.5" width="11.7" height="6.5"/><rect class="S" x="370.7" y="-6.5" width="9.3" height="6.5"/><rect class="D" x="380" y="-6.5" width="12.7" height="6.5"/><rect class="M" x="392.7" y="-6.5" width="11.6" height="6.5"/><rect class="P" x="405.7" y="-6.5" width="6" height="6.5"/><rect class="B" x="411.7" y="-6.5" width="11.6" height="6.5"/><rect class="K" x="423.3" y="-6.5" width="9" height="6.5"/><rect class="R" x="434.3" y="-6.5" width="9" height="6.5"/></g></g>
<g id="MtGRAS51"><text class="lbl" x="120.5" y="412.4">MtGRAS51</text><g transform="translate(0,407.4)"><line class="ln" x1="227" y1="0.3" x2="443" y2="0.3"/><rect class="G" x="292.3" y="-6.5" width="12" height="6.5"/><rect class="L" x="304.3" y="-6.5" width="11.7" height="6.5"/><rect class="C" x="316" y="-6.5" width="9" height="6.5"/><rect class="Y" x="325" y="-6.5" width="11.7" height="6.5"/><rect class="C" x="337.7" y="-6.5" width="11.6" height="6.5"/><rect class="N" x="349.3" y="-6.5" width="3.4" height="6.5"/><rect class="T" x="355" y="-6.5" width="11.7" height="6.5"/><rect class="S" x="370.7" y="-6.5" width="9.3" height="6.5"/><rect class="D" x="380" y="-6.5" width="12.7" height="6.5"/><rect class="M" x="392.7" y="-6.5" width="11.6" height="6.5"/><rect class="P" x="405.7" y="-6.5" width="6" height="6.5"/><rect class="B" x="411.7" y="-6.5" width="11.6" height="6.5"/><rect class="K" x="423.3" y="-6.5" width="9" height="6.5"/><rect class="R" x="434.3" y="-6.5" width="9" height="6.5"/></g></g>
<g id="MtGRAS52"><text class="lbl" x="120.5" y="424.4">MtGRAS52</text><g transform="translate(0,419.4)"><line class="ln" x1="227" y1="0.3" x2="443" y2="0.3"/><rect class="C" x="269" y="-3.3" width="8.7" height="3.3"/><rect class="G" x="292.3" y="-6.5" width="12" height="6.5"/><rect class="L" x="304.3" y="-6.5" width="11.7" height="6.5"/><rect class="C" x="316" y="-6.5" width="9" height="6.5"/><rect class="Y" x="325" y="-6.5" width="11.7" height="6.5"/><rect class="C" x="337.7" y="-6.5" width="11.6" height="6.5"/><rect class="N" x="349.3" y="-6.5" width="3.4" height="6.5"/><rect class="T" x="355" y="-6.5" width="11.7" height="6.5"/><rect class="S" x="370.7" y="-6.5" width="9.3" height="6.5"/><rect class="D" x="380" y="-6.5" width="12.7" height="6.5"/><rect class="M" x="392.7" y="-6.5" width="11.6" height="6.5"/><rect class="P" x="405.7" y="-6.5" width="6" height="6.5"/><rect class="B" x="411.7" y="-6.5" width="11.6" height="6.5"/><rect class="K" x="423.3" y="-6.5" width="9" height="6.5"/><rect class="R" x="434.3" y="-6.5" width="9" height="6.5"/></g></g>
<g id="MtGRAS5"><text class="lbl" x="120.5" y="436.4">MtGRAS5</text><g transform="translate(0,431.4)"><line class="ln" x1="224" y1="0.3" x2="410" y2="0.3"/><rect class="G" x="253.3" y="-6.5" width="12.4" height="6.5"/><rect class="L" x="265.7" y="-6.5" width="11" height="6.5"/><rect class="Y" x="284.3" y="-6.5" width="12.4" height="6.5"/><rect class="C" x="298" y="-6.5" width="12" height="6.5"/><rect class="N" x="310" y="-6.5" width="4" height="6.5"/><rect class="T" x="314" y="-6.5" width="12" height="6.5"/><rect class="D" x="338.3" y="-6.5" width="12.7" height="6.5"/><rect class="M" x="351" y="-6.5" width="12.3" height="6.5"/><rect class="P" x="363.3" y="-6.5" width="6.7" height="6.5"/><rect class="B" x="371.7" y="-6.5" width="11.6" height="6.5"/><rect class="K" x="383.3" y="-6.5" width="8.4" height="6.5"/><rect class="R" x="400" y="-6.5" width="8.3" height="6.5"/></g></g>
<g id="MtGRAS39"><text class="lbl" x="120.5" y="448.4">MtGRAS39</text><g transform="translate(0,443.4)"><line class="ln" x1="230" y1="0.3" x2="442" y2="0.3"/><rect class="G" x="293.3" y="-6.5" width="12.4" height="6.5"/><rect class="L" x="305.7" y="-6.5" width="11.6" height="6.5"/><rect class="Y" x="324.3" y="-6.5" width="13" height="6.5"/><rect class="C" x="337.3" y="-6.5" width="12.7" height="6.5"/><rect class="N" x="350" y="-6.5" width="3.3" height="6.5"/><rect class="T" x="355" y="-6.5" width="12.3" height="6.5"/><rect class="S" x="371" y="-6.5" width="9" height="6.5"/><rect class="D" x="380" y="-6.5" width="12.3" height="6.5"/><rect class="M" x="392.3" y="-6.5" width="12" height="6.5"/><rect class="P" x="404.3" y="-6.5" width="7.4" height="6.5"/><rect class="K" x="421" y="-6.5" width="9" height="6.5"/><rect class="R" x="433.3" y="-6.5" width="9" height="6.5"/></g></g>
<g id="MtGRAS50"><text class="lbl" x="120.5" y="460.4">MtGRAS50</text><g transform="translate(0,455.4)"><line class="ln" x1="230" y1="0.3" x2="424" y2="0.3"/><rect class="G" x="267.7" y="-6.5" width="12.3" height="6.5"/><rect class="L" x="280" y="-6.5" width="12.3" height="6.5"/><rect class="Y" x="301" y="-6.5" width="13" height="6.5"/><rect class="C" x="314" y="-6.5" width="12" height="6.5"/><rect class="N" x="326" y="-6.5" width="4" height="6.5"/><rect class="T" x="334.3" y="-6.5" width="12.4" height="6.5"/><rect class="S" x="350.7" y="-6.5" width="8.3" height="6.5"/><rect class="D" x="359" y="-6.5" width="12.7" height="6.5"/><rect class="M" x="371.7" y="-6.5" width="12.3" height="6.5"/><rect class="P" x="385" y="-6.5" width="6" height="6.5"/><rect class="K" x="402.3" y="-6.5" width="9.4" height="6.5"/><rect class="R" x="414" y="-6.5" width="9.3" height="6.5"/></g></g>
<g id="MtGRAS29"><text class="lbl" x="120.5" y="472.3">MtGRAS29</text><g transform="translate(0,467.3)"><line class="ln" x1="223" y1="0.3" x2="427" y2="0.3"/><rect class="G" x="268.3" y="-6.5" width="11.7" height="6.5"/><rect class="L" x="280" y="-3.3" width="13.3" height="3.3"/><rect class="Y" x="305.7" y="-6.5" width="12.6" height="6.5"/><rect class="C" x="318.3" y="-6.5" width="12.7" height="6.5"/><rect class="T" x="335.7" y="-6.5" width="12" height="6.5"/><rect class="S" x="352.3" y="-6.5" width="8.4" height="6.5"/><rect class="D" x="360.7" y="-6.5" width="12" height="6.5"/><rect class="M" x="372.7" y="-6.5" width="11.6" height="6.5"/><rect class="P" x="385.7" y="-6.5" width="6.6" height="6.5"/><rect class="K" x="402.3" y="-6.5" width="9.4" height="6.5"/><rect class="R" x="414.3" y="-6.5" width="9" height="6.5"/></g></g>
<g id="MtGRAS62"><text class="lbl" x="120.5" y="484.3">MtGRAS62</text><g transform="translate(0,479.3)"><line class="ln" x1="223" y1="0.3" x2="427" y2="0.3"/><rect class="G" x="275" y="-6.5" width="12.7" height="6.5"/><rect class="L" x="287.7" y="-3.3" width="12.3" height="3.3"/><rect class="Y" x="306" y="-6.5" width="13" height="6.5"/><rect class="C" x="319" y="-6.5" width="12.7" height="6.5"/><rect class="T" x="335.7" y="-6.5" width="12" height="6.5"/><rect class="D" x="357.7" y="-6.5" width="13" height="6.5"/><rect class="M" x="370.7" y="-6.5" width="13.3" height="6.5"/><rect class="P" x="385" y="-4.5" width="6.7" height="4.5"/><rect class="K" x="401.7" y="-4.5" width="9.3" height="4.5"/><rect class="R" x="412.7" y="-6.5" width="9" height="6.5"/></g></g>
<g id="MtGRAS57"><text class="lbl" x="120.5" y="496.3">MtGRAS57</text><g transform="translate(0,491.3)"><line class="ln" x1="223" y1="0.3" x2="458" y2="0.3"/><rect class="G" x="307.7" y="-6.5" width="12.3" height="6.5"/><rect class="L" x="320" y="-3.3" width="11.7" height="3.3"/><rect class="Y" x="336" y="-6.5" width="12.3" height="6.5"/><rect class="C" x="350" y="-6.5" width="12.3" height="6.5"/><rect class="T" x="365.7" y="-3.3" width="12.6" height="3.3"/><rect class="S" x="382.7" y="-3.3" width="9" height="3.3"/><rect class="M" x="407.3" y="-6.5" width="12" height="6.5"/><rect class="M" x="421.7" y="-3.3" width="12.3" height="3.3"/><rect class="K" x="435.7" y="-6.5" width="8.6" height="6.5"/><rect class="R" x="448.3" y="-6.5" width="9" height="6.5"/></g></g>
<g id="MtGRAS49"><text class="lbl" x="120.5" y="508.3">MtGRAS49</text><g transform="translate(0,503.3)"><line class="ln" x1="223" y1="0.3" x2="342" y2="0.3"/><rect class="N" x="250.7" y="-4.5" width="3.6" height="4.5"/><rect class="D" x="279.3" y="-6.5" width="12.4" height="6.5"/><rect class="M" x="291.7" y="-6.5" width="12.6" height="6.5"/><rect class="K" x="320.7" y="-6.5" width="8.6" height="6.5"/><rect class="R" x="332.3" y="-6.5" width="8.7" height="6.5"/></g></g>
<g id="MtGRAS61"><text class="lbl" x="120.5" y="520.3">MtGRAS61</text><g transform="translate(0,515.3)"><line class="ln" x1="223" y1="0.3" x2="473" y2="0.3"/><rect class="G" x="326.7" y="-6.5" width="11.6" height="6.5"/><rect class="L" x="338.3" y="-6.5" width="11.7" height="6.5"/><rect class="Y" x="357.3" y="-6.5" width="12" height="6.5"/><rect class="C" x="370.7" y="-6.5" width="11.6" height="6.5"/><rect class="N" x="382.3" y="-6.5" width="3.4" height="6.5"/><rect class="T" x="387.3" y="-6.5" width="11.7" height="6.5"/><rect class="D" x="411" y="-6.5" width="13" height="6.5"/><rect class="M" x="424" y="-6.5" width="11.7" height="6.5"/><rect class="P" x="436" y="-3.3" width="6.3" height="3.3"/><rect class="K" x="452.3" y="-3.3" width="8.4" height="3.3"/><rect class="R" x="463.3" y="-6.5" width="9.4" height="6.5"/></g></g>
<g id="MtGRAS1"><text class="lbl" x="120.5" y="532.2">MtGRAS1</text><g transform="translate(0,527.2)"><line class="ln" x1="223" y1="0.3" x2="516" y2="0.3"/><rect class="G" x="369.3" y="-6.5" width="12.4" height="6.5"/><rect class="L" x="381.7" y="-6.5" width="11.6" height="6.5"/><rect class="Y" x="400" y="-6.5" width="12.7" height="6.5"/><rect class="C" x="413.3" y="-6.5" width="12.4" height="6.5"/><rect class="N" x="425.7" y="-6.5" width="3.3" height="6.5"/><rect class="T" x="430.7" y="-3.3" width="12" height="3.3"/><rect class="D" x="453.3" y="-6.5" width="12.7" height="6.5"/><rect class="M" x="466" y="-6.5" width="11.7" height="6.5"/><rect class="P" x="479" y="-3.3" width="6.7" height="3.3"/><rect class="K" x="495" y="-3.3" width="9.3" height="3.3"/><rect class="R" x="506" y="-6.5" width="9.7" height="6.5"/></g></g>
<g id="MtGRAS31"><text class="lbl" x="120.5" y="544.2">MtGRAS31</text><g transform="translate(0,539.2)"><line class="ln" x1="223" y1="0.3" x2="473" y2="0.3"/><rect class="G" x="326.7" y="-6.5" width="12.3" height="6.5"/><rect class="L" x="339" y="-6.5" width="11.7" height="6.5"/><rect class="Y" x="357.3" y="-6.5" width="12.7" height="6.5"/><rect class="C" x="370.7" y="-6.5" width="11.6" height="6.5"/><rect class="N" x="382.3" y="-6.5" width="3.4" height="6.5"/><rect class="T" x="387.3" y="-6.5" width="12" height="6.5"/><rect class="D" x="411" y="-6.5" width="13" height="6.5"/><rect class="M" x="424" y="-6.5" width="12" height="6.5"/><rect class="P" x="436" y="-3.3" width="6.7" height="3.3"/><rect class="K" x="451.7" y="-3.3" width="9" height="3.3"/><rect class="R" x="463.3" y="-6.5" width="9.4" height="6.5"/></g></g>
<g id="MtGRAS28"><text class="lbl" x="120.5" y="556.2">MtGRAS28</text><g transform="translate(0,551.2)"><line class="ln" x1="223" y1="0.3" x2="442" y2="0.3"/><rect class="G" x="287.7" y="-6.5" width="12.3" height="6.5"/><rect class="L" x="300" y="-6.5" width="11.7" height="6.5"/><rect class="Y" x="316.7" y="-6.5" width="12.6" height="6.5"/><rect class="C" x="329.3" y="-6.5" width="12.4" height="6.5"/><rect class="N" x="341.7" y="-6.5" width="4" height="6.5"/><rect class="T" x="346.7" y="-6.5" width="11.6" height="6.5"/><rect class="D" x="370.7" y="-6.5" width="12.6" height="6.5"/><rect class="M" x="383.3" y="-6.5" width="11.7" height="6.5"/><rect class="P" x="400" y="-3.3" width="6.7" height="3.3"/><rect class="B" x="406.7" y="-6.5" width="12.3" height="6.5"/><rect class="K" x="419" y="-6.5" width="8.3" height="6.5"/><rect class="R" x="430" y="-6.5" width="9" height="6.5"/></g></g>
<g id="MtGRAS43"><text class="lbl" x="120.5" y="568.2">MtGRAS43</text><g transform="translate(0,563.2)"><line class="ln" x1="223" y1="0.3" x2="434" y2="0.3"/><rect class="G" x="278.3" y="-6.5" width="12.4" height="6.5"/><rect class="L" x="290.7" y="-6.5" width="11" height="6.5"/><rect class="Y" x="313.3" y="-6.5" width="12.7" height="6.5"/><rect class="C" x="327.7" y="-3.3" width="12.3" height="3.3"/><rect class="N" x="340" y="-6.5" width="3.3" height="6.5"/><rect class="T" x="343.3" y="-6.5" width="11.7" height="6.5"/><rect class="S" x="359" y="-6.5" width="8.7" height="6.5"/><rect class="D" x="367.7" y="-6.5" width="12.3" height="6.5"/><rect class="M" x="380" y="-6.5" width="12.3" height="6.5"/><rect class="P" x="392.3" y="-6.5" width="6.7" height="6.5"/><rect class="B" x="399" y="-6.5" width="12" height="6.5"/><rect class="R" x="421.7" y="-6.5" width="9" height="6.5"/></g></g>
<g id="MtGRAS63"><text class="lbl" x="120.5" y="580.2">MtGRAS63</text><g transform="translate(0,575.2)"><line class="ln" x1="223" y1="0.3" x2="436" y2="0.3"/><rect class="E" x="234.3" y="-6.5" width="13.4" height="6.5"/><rect class="G" x="280.7" y="-6.5" width="12" height="6.5"/><rect class="L" x="292.7" y="-6.5" width="11.3" height="6.5"/><rect class="Y" x="315.7" y="-6.5" width="12.6" height="6.5"/><rect class="C" x="328.3" y="-6.5" width="12.4" height="6.5"/><rect class="N" x="340.7" y="-6.5" width="3.6" height="6.5"/><rect class="T" x="344.3" y="-3.3" width="12.4" height="3.3"/><rect class="S" x="361.7" y="-6.5" width="8.3" height="6.5"/><rect class="D" x="370" y="-6.5" width="12.3" height="6.5"/><rect class="M" x="382.3" y="-6.5" width="12" height="6.5"/><rect class="P" x="395" y="-6.5" width="6.7" height="6.5"/><rect class="B" x="401.7" y="-6.5" width="11.6" height="6.5"/><rect class="R" x="423.3" y="-6.5" width="9" height="6.5"/></g></g>
<g id="MtGRAS54"><text class="lbl" x="120.5" y="592.1">MtGRAS54</text><g transform="translate(0,587.1)"><line class="ln" x1="223" y1="0.3" x2="492" y2="0.3"/><rect class="G" x="338.3" y="-6.5" width="12.4" height="6.5"/><rect class="L" x="350.7" y="-6.5" width="11.6" height="6.5"/><rect class="Y" x="376.7" y="-6.5" width="12.6" height="6.5"/><rect class="C" x="389.3" y="-6.5" width="12.4" height="6.5"/><rect class="N" x="401.7" y="-6.5" width="3.3" height="6.5"/><rect class="T" x="405" y="-6.5" width="11.7" height="6.5"/><rect class="D" x="428.3" y="-6.5" width="12.7" height="6.5"/><rect class="M" x="441" y="-6.5" width="11.7" height="6.5"/><rect class="P" x="453.3" y="-6.5" width="6.7" height="6.5"/><rect class="B" x="460" y="-6.5" width="11.7" height="6.5"/><rect class="K" x="471.7" y="-6.5" width="8.3" height="6.5"/><rect class="R" x="482.7" y="-6.5" width="9" height="6.5"/></g></g>
<g id="MtGRAS3"><text class="lbl" x="120.5" y="604.1">MtGRAS3</text><g transform="translate(0,599.1)"><line class="ln" x1="223" y1="0.3" x2="408" y2="0.3"/><rect class="G" x="261.7" y="-6.5" width="12.3" height="6.5"/><rect class="L" x="274" y="-3.3" width="12" height="3.3"/><rect class="Y" x="292.7" y="-6.5" width="12.3" height="6.5"/><rect class="C" x="305" y="-6.5" width="12.3" height="6.5"/><rect class="N" x="317.3" y="-6.5" width="3.7" height="6.5"/><rect class="T" x="321" y="-6.5" width="11.7" height="6.5"/><rect class="D" x="344" y="-6.5" width="12" height="6.5"/><rect class="M" x="356" y="-6.5" width="12.3" height="6.5"/><rect class="P" x="369" y="-6.5" width="6.7" height="6.5"/><rect class="K" x="386.7" y="-6.5" width="9" height="6.5"/><rect class="R" x="398.3" y="-6.5" width="9" height="6.5"/></g></g>
<g id="MtGRAS58"><text class="lbl" x="120.5" y="616.1">MtGRAS58</text><g transform="translate(0,611.1)"><line class="ln" x1="223" y1="0.3" x2="543" y2="0.3"/><rect class="G" x="392.7" y="-6.5" width="12.3" height="6.5"/><rect class="L" x="405" y="-6.5" width="11.7" height="6.5"/><rect class="Y" x="425" y="-6.5" width="12.3" height="6.5"/><rect class="C" x="437.3" y="-6.5" width="12.7" height="6.5"/><rect class="N" x="450" y="-6.5" width="3.3" height="6.5"/><rect class="T" x="453.3" y="-3.3" width="11.7" height="3.3"/><rect class="D" x="476" y="-6.5" width="12.3" height="6.5"/><rect class="M" x="488.3" y="-6.5" width="11.7" height="6.5"/><rect class="P" x="500.7" y="-3.3" width="6.6" height="3.3"/><rect class="K" x="517.7" y="-3.3" width="9" height="3.3"/><rect class="R" x="529.3" y="-6.5" width="9" height="6.5"/></g></g>
<g id="MtGRAS37"><text class="lbl" x="120.5" y="628.1">MtGRAS37</text><g transform="translate(0,623.1)"><line class="ln" x1="222" y1="0.3" x2="397" y2="0.3"/><rect class="G" x="251.7" y="-6.5" width="12.3" height="6.5"/><rect class="L" x="264" y="-6.5" width="11.7" height="6.5"/><rect class="Y" x="284.3" y="-6.5" width="13" height="6.5"/><rect class="C" x="297.3" y="-6.5" width="12.7" height="6.5"/><rect class="D" x="330.7" y="-6.5" width="12.6" height="6.5"/><rect class="M" x="343.3" y="-6.5" width="11.7" height="6.5"/><rect class="P" x="355" y="-6.5" width="7.3" height="6.5"/><rect class="K" x="372.7" y="-4.5" width="9.6" height="4.5"/><rect class="R" x="384.3" y="-6.5" width="9" height="6.5"/></g></g>
<g id="MtGRAS59"><text class="lbl" x="120.5" y="640.1">MtGRAS59</text><g transform="translate(0,635.1)"><line class="ln" x1="222" y1="0.3" x2="448" y2="0.3"/><rect class="G" x="292.7" y="-6.5" width="12.3" height="6.5"/><rect class="L" x="305" y="-6.5" width="11.7" height="6.5"/><rect class="Y" x="326" y="-6.5" width="13" height="6.5"/><rect class="C" x="339" y="-6.5" width="12.7" height="6.5"/><rect class="N" x="351.7" y="-3.3" width="4" height="3.3"/><rect class="T" x="355.7" y="-6.5" width="12" height="6.5"/><rect class="D" x="379.3" y="-6.5" width="13" height="6.5"/><rect class="M" x="392.3" y="-6.5" width="11.7" height="6.5"/><rect class="B" x="410.7" y="-6.5" width="11.6" height="6.5"/><rect class="R" x="434" y="-6.5" width="8.7" height="6.5"/></g></g>
<g id="MtGRAS4"><text class="lbl" x="120.5" y="652">MtGRAS4</text><g transform="translate(0,647)"><line class="ln" x1="222" y1="0.3" x2="413" y2="0.3"/><rect class="K" x="226.7" y="-4.5" width="9" height="4.5"/><rect class="G" x="259.3" y="-6.5" width="13" height="6.5"/><rect class="L" x="272.3" y="-6.5" width="12" height="6.5"/><rect class="Y" x="296" y="-6.5" width="12.3" height="6.5"/><rect class="C" x="308.3" y="-6.5" width="12.7" height="6.5"/><rect class="N" x="321" y="-6.5" width="4" height="6.5"/><rect class="T" x="325" y="-6.5" width="12.3" height="6.5"/><rect class="D" x="349.3" y="-6.5" width="12.4" height="6.5"/><rect class="M" x="361.7" y="-6.5" width="11.6" height="6.5"/><rect class="B" x="380" y="-6.5" width="12.3" height="6.5"/><rect class="R" x="403.3" y="-6.5" width="9.4" height="6.5"/></g></g>
<g id="MtGRAS8"><text class="lbl" x="120.5" y="664">MtGRAS8</text><g transform="translate(0,659)"><line class="ln" x1="222" y1="0.3" x2="455" y2="0.3"/><rect class="K" x="266" y="-4.5" width="9" height="4.5"/><rect class="G" x="301" y="-6.5" width="12.3" height="6.5"/><rect class="L" x="313.3" y="-6.5" width="11.7" height="6.5"/><rect class="Y" x="336" y="-6.5" width="13" height="6.5"/><rect class="C" x="349" y="-6.5" width="12.7" height="6.5"/><rect class="N" x="361.7" y="-4.5" width="3.3" height="4.5"/><rect class="T" x="366.7" y="-6.5" width="12.6" height="6.5"/><rect class="D" x="391" y="-6.5" width="13" height="6.5"/><rect class="M" x="404" y="-6.5" width="11.7" height="6.5"/><rect class="P" x="416.7" y="-6.5" width="6" height="6.5"/><rect class="B" x="422.7" y="-6.5" width="12.3" height="6.5"/><rect class="R" x="446" y="-6.5" width="9" height="6.5"/></g></g>
<g id="MtGRAS9"><text class="lbl" x="120.5" y="676">MtGRAS9</text><g transform="translate(0,671)"><line class="ln" x1="222" y1="0.3" x2="454" y2="0.3"/><rect class="G" x="300" y="-6.5" width="12.7" height="6.5"/><rect class="L" x="312.7" y="-6.5" width="11.6" height="6.5"/><rect class="Y" x="335.7" y="-6.5" width="12.6" height="6.5"/><rect class="C" x="348.3" y="-6.5" width="12.4" height="6.5"/><rect class="N" x="360.7" y="-4.5" width="3.6" height="4.5"/><rect class="T" x="366" y="-6.5" width="12.3" height="6.5"/><rect class="D" x="390.7" y="-6.5" width="12.6" height="6.5"/><rect class="M" x="403.3" y="-6.5" width="11.7" height="6.5"/><rect class="P" x="415.7" y="-6.5" width="6" height="6.5"/><rect class="B" x="421.7" y="-6.5" width="11.6" height="6.5"/><rect class="R" x="445" y="-6.5" width="9" height="6.5"/></g></g>
<g id="MtGRAS10"><text class="lbl" x="120.5" y="688">MtGRAS10</text><g transform="translate(0,683)"><line class="ln" x1="222" y1="0.3" x2="451" y2="0.3"/><rect class="G" x="297.7" y="-6.5" width="12.3" height="6.5"/><rect class="L" x="310" y="-6.5" width="11.7" height="6.5"/><rect class="Y" x="332.7" y="-6.5" width="12.3" height="6.5"/><rect class="C" x="345" y="-6.5" width="12.7" height="6.5"/><rect class="N" x="357.7" y="-4.5" width="4" height="4.5"/><rect class="T" x="362.3" y="-6.5" width="12.7" height="6.5"/><rect class="D" x="387.3" y="-6.5" width="12.7" height="6.5"/><rect class="M" x="400" y="-6.5" width="11.7" height="6.5"/><rect class="B" x="418.3" y="-6.5" width="11.7" height="6.5"/><rect class="R" x="441.7" y="-6.5" width="9" height="6.5"/></g></g>
<g id="MtGRAS23"><text class="lbl" x="120.5" y="700">MtGRAS23</text><g transform="translate(0,695)"><line class="ln" x1="222" y1="0.3" x2="295" y2="0.3"/><rect class="P" x="256.7" y="-6.5" width="6" height="6.5"/><rect class="B" x="262.7" y="-6.5" width="11.6" height="6.5"/><rect class="K" x="274.3" y="-6.5" width="9" height="6.5"/><rect class="R" x="285.7" y="-6.5" width="8.6" height="6.5"/></g></g>
<g id="MtGRAS24"><text class="lbl" x="120.5" y="711.9">MtGRAS24</text><g transform="translate(0,706.9)"><line class="ln" x1="222" y1="0.3" x2="395" y2="0.3"/><rect class="G" x="226.7" y="-6.5" width="12.3" height="6.5"/><rect class="L" x="239" y="-6.5" width="11.7" height="6.5"/><rect class="Y" x="259" y="-6.5" width="12.7" height="6.5"/><rect class="C" x="271.7" y="-6.5" width="12.3" height="6.5"/><rect class="N" x="284" y="-6.5" width="3.3" height="6.5"/><rect class="T" x="287.3" y="-6.5" width="11.7" height="6.5"/><rect class="S" x="302.7" y="-6.5" width="9" height="6.5"/><rect class="L" x="312.3" y="-3.3" width="12.7" height="3.3"/><rect class="D" x="332.3" y="-6.5" width="12" height="6.5"/><rect class="M" x="344.3" y="-6.5" width="12.4" height="6.5"/><rect class="P" x="356.7" y="-6.5" width="6.6" height="6.5"/><rect class="B" x="363.3" y="-6.5" width="11.7" height="6.5"/><rect class="K" x="375" y="-6.5" width="8.3" height="6.5"/><rect class="R" x="386" y="-6.5" width="9" height="6.5"/></g></g>
<g id="MtGRAS26"><text class="lbl" x="120.5" y="723.9">MtGRAS26</text><g transform="translate(0,718.9)"><line class="ln" x1="222" y1="0.3" x2="353" y2="0.3"/><rect class="Y" x="247.3" y="-3.3" width="12.7" height="3.3"/><rect class="G" x="272.3" y="-6.5" width="11.7" height="6.5"/><rect class="C" x="294.3" y="-6.5" width="11.7" height="6.5"/><rect class="N" x="306" y="-6.5" width="3.3" height="6.5"/><rect class="T" x="309.3" y="-6.5" width="11.7" height="6.5"/><rect class="S" x="324.3" y="-3.3" width="9.7" height="3.3"/><rect class="R" x="343.3" y="-6.5" width="9.4" height="6.5"/></g></g>
<g id="MtGRAS25"><text class="lbl" x="120.5" y="735.9">MtGRAS25</text><g transform="translate(0,730.9)"><line class="ln" x1="222" y1="0.3" x2="248" y2="0.3"/><rect class="Y" x="230" y="-6.5" width="12.3" height="6.5"/></g></g>
<g id="MtGRAS38"><text class="lbl" x="120.5" y="747.9">MtGRAS38</text><g transform="translate(0,742.9)"><line class="ln" x1="222" y1="0.3" x2="409" y2="0.3"/><rect class="G" x="236.7" y="-6.5" width="11.6" height="6.5"/><rect class="L" x="248.3" y="-6.5" width="12.4" height="6.5"/><rect class="Y" x="269" y="-6.5" width="12.7" height="6.5"/><rect class="C" x="281.7" y="-6.5" width="12.3" height="6.5"/><rect class="N" x="294" y="-6.5" width="3.3" height="6.5"/><rect class="T" x="297.3" y="-6.5" width="12" height="6.5"/><rect class="S" x="312.7" y="-6.5" width="9" height="6.5"/><rect class="D" x="345.7" y="-6.5" width="12" height="6.5"/><rect class="M" x="357.7" y="-6.5" width="11.6" height="6.5"/><rect class="P" x="370.7" y="-6.5" width="6.6" height="6.5"/><rect class="B" x="377.3" y="-6.5" width="11.7" height="6.5"/><rect class="K" x="389" y="-6.5" width="8.3" height="6.5"/><rect class="R" x="400" y="-6.5" width="9" height="6.5"/></g></g>
<g id="MtGRAS46"><text class="lbl" x="120.5" y="759.9">MtGRAS46</text><g transform="translate(0,754.9)"><line class="ln" x1="222" y1="0.3" x2="412" y2="0.3"/><rect class="G" x="239" y="-6.5" width="12" height="6.5"/><rect class="L" x="251" y="-6.5" width="11.7" height="6.5"/><rect class="Y" x="271.7" y="-6.5" width="12.3" height="6.5"/><rect class="C" x="284" y="-6.5" width="12.7" height="6.5"/><rect class="N" x="296.7" y="-6.5" width="3.3" height="6.5"/><rect class="T" x="300" y="-6.5" width="11.7" height="6.5"/><rect class="S" x="315" y="-6.5" width="10" height="6.5"/><rect class="D" x="348.3" y="-6.5" width="12.4" height="6.5"/><rect class="M" x="360.7" y="-6.5" width="11.6" height="6.5"/><rect class="P" x="373.3" y="-6.5" width="6.7" height="6.5"/><rect class="B" x="380" y="-6.5" width="11.7" height="6.5"/><rect class="K" x="391.7" y="-6.5" width="8.3" height="6.5"/><rect class="R" x="402.7" y="-6.5" width="9.6" height="6.5"/></g></g>
<g id="MtGRAS6"><text class="lbl" x="120.5" y="771.8">MtGRAS6</text><g transform="translate(0,766.8)"><line class="ln" x1="222" y1="0.3" x2="357" y2="0.3"/><rect class="G" x="267.7" y="-6.5" width="12.3" height="6.5"/><rect class="L" x="280" y="-6.5" width="11.7" height="6.5"/><rect class="Y" x="300" y="-6.5" width="12.7" height="6.5"/><rect class="T" x="312.7" y="-3.3" width="12.3" height="3.3"/><rect class="D" x="331" y="-6.5" width="12.3" height="6.5"/><rect class="M" x="343.3" y="-6.5" width="11.7" height="6.5"/></g></g>
</g>
<g id="axis" stroke="#6a6aff" stroke-width="0.8">
<path d="M221.7 781.5V784.5M301.5 781.5V784.5M381.3 781.5V784.5M461.2 781.5V784.5M541 781.5V784.5M620.8 781.5V784.5"/>
<path d="M237.7 782.3V783.3M253.6 782.3V783.3M269.6 782.3V783.3M285.5 782.3V783.3M317.5 782.3V783.3M333.4 782.3V783.3M349.4 782.3V783.3M365.3 782.3V783.3M397.3 782.3V783.3M413.3 782.3V783.3M429.2 782.3V783.3M445.2 782.3V783.3M477.1 782.3V783.3M493.1 782.3V783.3M509 782.3V783.3M525 782.3V783.3M557 782.3V783.3M572.9 782.3V783.3M588.9 782.3V783.3M604.8 782.3V783.3M636.8 782.3V783.3M652.7 782.3V783.3M668.7 782.3V783.3"/>
</g>
<g id="axis-labels">
<text class="ax" x="221.7" y="791.5">0</text><text class="ax" x="301.5" y="791.5">200</text><text class="ax" x="381.3" y="791.5">400</text><text class="ax" x="461.2" y="791.5">600</text><text class="ax" x="541" y="791.5">800</text><text class="ax" x="620.8" y="791.5">1000</text>
</g>
<g id="legend">
<rect class="C" x="82.7" y="807.7" width="10" height="10"/><text class="lg" x="95.2" y="815">Motif 1</text>
<rect class="B" x="124.3" y="807.7" width="10" height="10"/><text class="lg" x="136.8" y="815">Motif 2</text>
<rect class="R" x="166.7" y="807.7" width="10" height="10"/><text class="lg" x="179.2" y="815">Motif 3</text>
<rect class="M" x="208.3" y="807.7" width="10" height="10"/><text class="lg" x="220.8" y="815">Motif 4</text>
<rect class="Y" x="250.7" y="807.7" width="10" height="10"/><text class="lg" x="263.2" y="815">Motif 5</text>
<rect class="L" x="292.7" y="807.7" width="10" height="10"/><text class="lg" x="305.2" y="815">Motif 6</text>
<rect class="T" x="335" y="807.7" width="10" height="10"/><text class="lg" x="347.5" y="815">Motif 7</text>
<rect class="D" x="377.3" y="807.7" width="10" height="10"/><text class="lg" x="389.8" y="815">Motif 8</text>
<rect class="G" x="419.3" y="807.7" width="10" height="10"/><text class="lg" x="431.8" y="815">Motif 9</text>
<rect class="S" x="461.7" y="807.7" width="10" height="10"/><text class="lg" x="474.2" y="815">Motif 10</text>
<rect class="P" x="507.3" y="807.7" width="10" height="10"/><text class="lg" x="519.8" y="815">Motif 11</text>
<rect class="O" x="552.7" y="807.7" width="10" height="10"/><text class="lg" x="565.2" y="815">Motif 12</text>
<rect class="N" x="599" y="807.7" width="10" height="10"/><text class="lg" x="611.5" y="815">Motif 13</text>
<rect class="K" x="326.7" y="826.7" width="10" height="10"/><text class="lg" x="339.2" y="834">Motif 14</text>
<rect class="E" x="372.3" y="826.7" width="10" height="10"/><text class="lg" x="384.8" y="834">Motif 15</text>
<rect class="C" x="418.3" y="826.7" width="10" height="10"/><text class="lg" x="430.8" y="834">Motif 16</text>
<rect class="B" x="464" y="826.7" width="10" height="10"/><text class="lg" x="476.5" y="834">Motif 17</text>
<rect class="R" x="510" y="826.7" width="10" height="10"/><text class="lg" x="522.5" y="834">Motif 18</text>
<rect class="M" x="557.7" y="826.7" width="10" height="10"/><text class="lg" x="570.2" y="834">Motif 19</text>
<rect class="Y" x="601.7" y="826.7" width="10" height="10"/><text class="lg" x="614.2" y="834">Motif 20</text>
</g>
</svg>
